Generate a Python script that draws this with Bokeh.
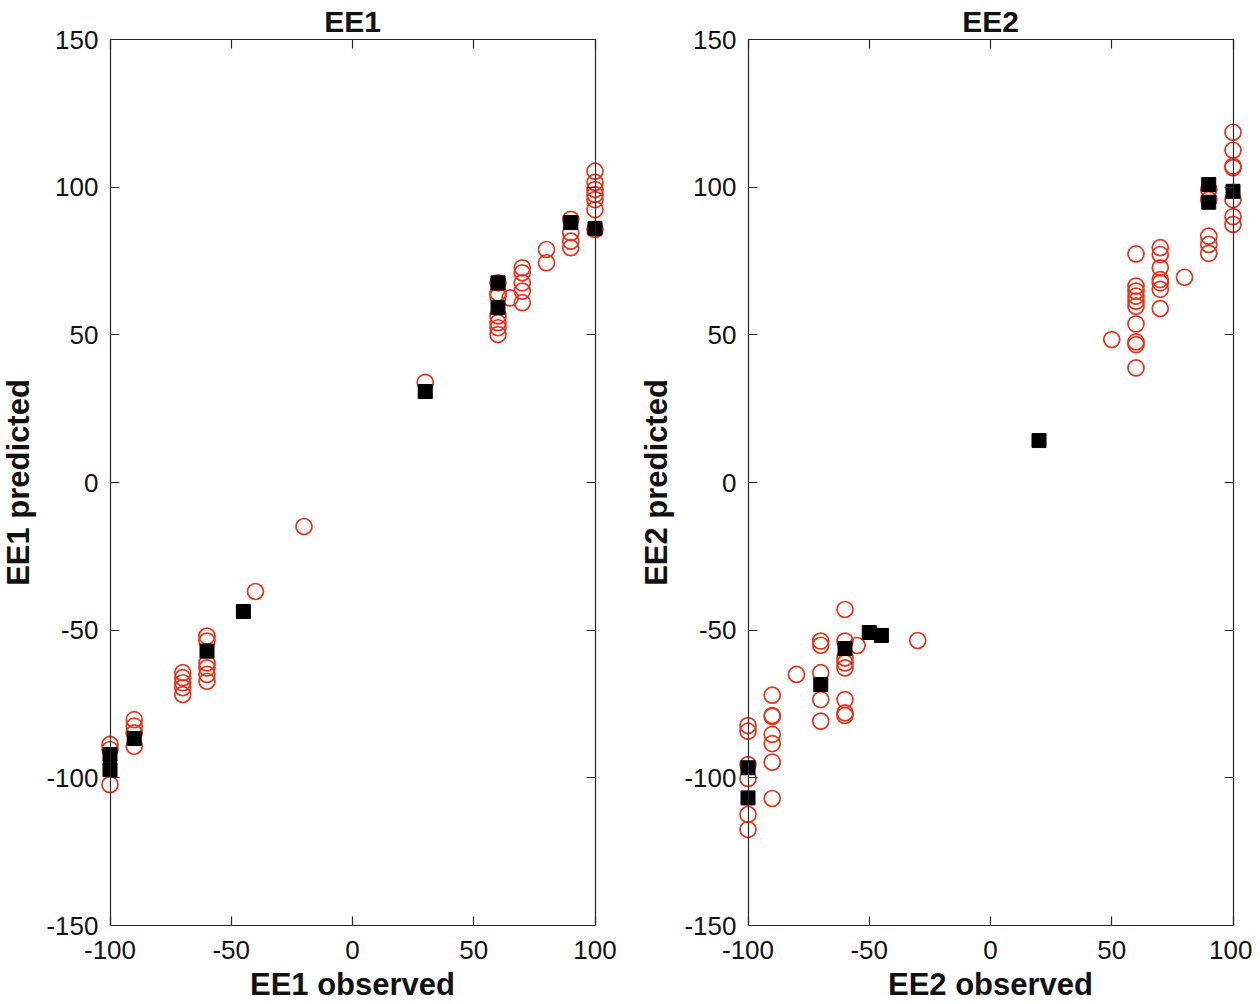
from bokeh.plotting import figure
from bokeh.layouts import row
from bokeh.models import Range1d, LinearAxis, FixedTicker
from bokeh.embed import file_html
from bokeh.resources import INLINE

# ---------------- data ----------------
ee1_circ_obs = [100, 100, 100, 100, 100, 100, 100,
                90, 90, 90, 90,
                80, 80,
                70, 70, 70, 70, 70,
                65,
                60, 60, 60, 60, 60, 60, 60,
                30, -20, -40,
                -60, -60, -60, -60, -60, -60,
                -70, -70, -70, -70, -70,
                -90, -90, -90, -90,
                -100, -100, -100]
ee1_circ_pred = [105.4, 101.6, 99.2, 97.5, 95.8, 92.4, 85.7,
                 89.1, 84.6, 81.7, 79.5,
                 78.9, 74.4,
                 72.7, 71.0, 67.6, 64.8, 60.9,
                 62.5,
                 67.6, 64.2, 63.1, 56.4, 54.1, 52.4, 50.1,
                 33.9, -14.9, -36.9,
                 -52.0, -53.7, -61.1, -62.8, -65.0, -67.3,
                 -64.4, -66.1, -67.8, -69.5, -71.8,
                 -80.3, -82.5, -84.8, -89.3,
                 -88.7, -90.4, -102.3]
ee1_sq_obs = [100, 90, 60, 60, 30, -45, -60, -90, -100, -100]
ee1_sq_pred = [86.0, 88.0, 67.6, 59.2, 30.8, -43.7, -57.1, -86.7, -92.1, -97.2]

ee2_circ_obs = [100, 100, 100, 100, 100, 100, 100,
                90, 90, 90, 90, 90,
                80,
                70, 70, 70, 70, 70, 70, 70,
                60, 60, 60, 60, 60, 60, 60, 60, 60, 60,
                50, -30, -55,
                -60, -60, -60, -60, -60, -60, -60, -60,
                -70, -70, -70, -70, -70,
                -80,
                -90, -90, -90, -90, -90, -90, -90,
                -100, -100, -100, -100, -100, -100]
ee2_circ_pred = [118.6, 112.5, 107.1, 106.6, 95.8, 90.0, 87.4,
                 99.2, 95.8, 83.4, 80.6, 77.6,
                 69.5,
                 79.5, 77.2, 72.7, 68.7, 67.6, 65.4, 58.9,
                 77.4, 66.5, 64.8, 63.1, 61.4, 59.7, 53.7, 47.6, 46.7, 38.8,
                 48.4, -53.5, -55.2,
                 -43.0, -53.7, -59.4, -61.1, -62.8, -73.5, -78.0, -78.9,
                 -53.7, -55.1, -64.4, -73.5, -80.8,
                 -65.0,
                 -72.0, -78.9, -79.2, -85.3, -88.4, -94.7, -107.0,
                 -82.3, -84.2, -95.5, -100.2, -112.4, -117.5]
ee2_sq_obs = [100, 90, 90, 20, -45, -50, -60, -70, -100, -100]
ee2_sq_pred = [98.6, 100.9, 94.9, 14.2, -51.8, -50.8, -56.2, -68.4, -96.6, -106.8]

x_ticks = [-100, -50, 0, 50, 100]
y_ticks = [-150, -100, -50, 0, 50, 100, 150]
x_lim = (-100, 100)
y_lim = (-150, 150)

RED = "#e8321c"
AX = "#262626"
FONT = "Liberation Sans"
BOX_W = 485          # pixel width of the axes box
FRAME_W = 504        # frame a little wider so edge markers are not clipped


def style_axis(ax, ticks, show_labels):
    ax.ticker = FixedTicker(ticks=ticks)
    ax.axis_line_color = AX
    ax.axis_line_width = 1.2
    ax.major_tick_line_color = AX
    ax.major_tick_line_width = 1.2
    ax.major_tick_in = 9
    ax.major_tick_out = 0
    ax.minor_tick_line_color = None
    ax.major_label_text_font = FONT
    ax.major_label_text_color = "#111111"
    ax.major_label_text_font_size = "26px"
    if show_labels:
        ax.major_label_overrides = {t: str(t) for t in ticks}
        ax.major_label_standoff = 12
    else:
        ax.major_label_overrides = {t: "" for t in ticks}
        ax.major_label_standoff = 0
    ax.axis_label_text_font = FONT
    ax.axis_label_text_font_style = "bold"
    ax.axis_label_text_font_size = "31px"
    ax.axis_label_text_color = "#111111"


def make_panel(name, cx, cy, sx, sy, bl, br):
    xpad = (x_lim[1] - x_lim[0]) * (FRAME_W / BOX_W - 1) / 2
    p = figure(frame_width=FRAME_W, frame_height=886,
               x_range=Range1d(x_lim[0] - xpad, x_lim[1] + xpad),
               y_range=Range1d(*y_lim),
               output_backend="svg", toolbar_location=None,
               min_border_left=bl, min_border_right=br,
               min_border_top=36, min_border_bottom=60,
               title=name, x_axis_location=None, y_axis_location=None)
    p.title.align = "center"
    p.title.text_font = FONT
    p.title.text_font_size = "30px"
    p.title.text_font_style = "bold"
    p.title.text_color = "#111111"
    p.title.standoff = 4
    p.grid.visible = False
    p.outline_line_color = None
    p.background_fill_color = "white"

    # bottom axis: box line, ticks and labels
    bottom = LinearAxis(axis_label=name + " observed", bounds=x_lim)
    style_axis(bottom, x_ticks, True)
    bottom.major_label_standoff = 15
    bottom.axis_label_standoff = 5
    # left axis: labels only (at the frame edge)
    left_lab = LinearAxis(axis_label=name + " predicted")
    style_axis(left_lab, y_ticks, True)
    left_lab.axis_line_color = None
    left_lab.major_tick_line_color = None
    left_lab.major_label_standoff = 2
    left_lab.axis_label_standoff = 7
    # left box line + ticks at x = -100
    left_box = LinearAxis(fixed_location=x_lim[0])
    style_axis(left_box, y_ticks, False)
    top = LinearAxis(bounds=x_lim)
    style_axis(top, x_ticks, False)
    right = LinearAxis(fixed_location=x_lim[1])
    style_axis(right, y_ticks, False)
    p.add_layout(bottom, "below")
    p.add_layout(left_lab, "left")
    p.add_layout(left_box, "left")
    p.add_layout(top, "above")
    p.add_layout(right, "right")

    p.scatter(cx, cy, marker="circle", size=16, fill_color=None,
              line_color=RED, line_width=1.7)
    p.scatter(sx, sy, marker="square", size=14, fill_color="black",
              line_color="black")
    return p


p1 = make_panel("EE1", ee1_circ_obs, ee1_circ_pred, ee1_sq_obs, ee1_sq_pred,
                110, 24)
p2 = make_panel("EE2", ee2_circ_obs, ee2_circ_pred, ee2_sq_obs, ee2_sq_pred,
                110, 10)

layout = row(p1, p2, margin=(0, 0, 0, -10))
open("out.html", "w").write(file_html(layout, INLINE))
